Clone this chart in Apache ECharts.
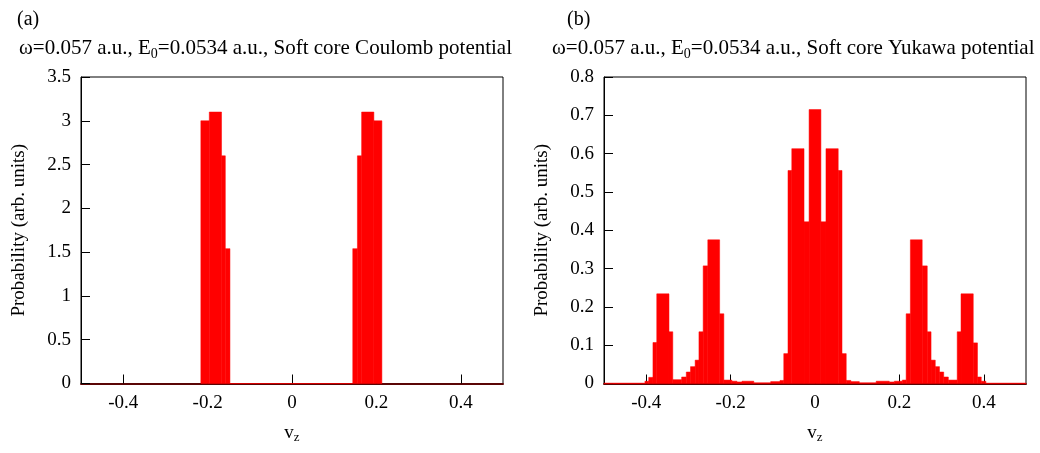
<!DOCTYPE html>
<html>
<head>
<meta charset="utf-8">
<title>Velocity distributions</title>
<script src="https://cdn.jsdelivr.net/npm/echarts@6/dist/echarts.min.js"></script>
<style>
  html, body { margin: 0; padding: 0; background: #fff; }
  #chart { width: 1040px; height: 453px; }
</style>
</head>
<body>
<div id="chart"></div>
<script>
// Histogram bins: consecutive edges in v_z (a.u.) and the probability of each bin.
const coulombEdges = [-0.216, -0.196, -0.167, -0.158, -0.147, 0.144, 0.155, 0.165, 0.194, 0.213];
const coulombProb = [3.0, 3.1, 2.6, 1.54, 0, 1.54, 2.6, 3.1, 3.0];

const yukawaEdges = [
  -0.5, -0.403, -0.394, -0.384, -0.375, -0.346, -0.337, -0.316, -0.305, -0.295,
  -0.284, -0.275, -0.265, -0.254, -0.226, -0.216, -0.197, -0.185, -0.173, -0.145,
  -0.105, -0.083, -0.074, -0.064, -0.055, -0.026, -0.014, 0.014, 0.026, 0.055,
  0.064, 0.074, 0.085, 0.105, 0.145, 0.176, 0.188, 0.207, 0.216, 0.226,
  0.254, 0.266, 0.275, 0.285, 0.295, 0.305, 0.316, 0.337, 0.346, 0.375,
  0.385, 0.394, 0.405, 0.5
];
const yukawaProb = [
  0.001, 0.006, 0.016, 0.107, 0.234, 0.135, 0.010, 0.017, 0.030, 0.044,
  0.061, 0.135, 0.307, 0.375, 0.182, 0.009, 0.006, 0.004, 0.006, 0.002,
  0.005, 0.008, 0.078, 0.556, 0.613, 0.422, 0.715, 0.422, 0.613, 0.556,
  0.078, 0.008, 0.005, 0.002, 0.006, 0.004, 0.006, 0.009, 0.182, 0.375,
  0.307, 0.135, 0.061, 0.044, 0.030, 0.017, 0.009, 0.135, 0.234, 0.106,
  0.017, 0.006, 0.001
];

// Axis ticks
const vzTicks = [-0.4, -0.2, 0, 0.2, 0.4];
const coulombYMax = 3.5, coulombYStep = 0.5;
const yukawaYMax = 0.8, yukawaYStep = 0.1;

// Panel texts
const panelTags = ['(a)', '(b)'];
const panelTitles = [
  ['ω=0.057 a.u., E', '0', '=0.0534 a.u., Soft core Coulomb potential'],
  ['ω=0.057 a.u., E', '0', '=0.0534 a.u., Soft core Yukawa potential']
];
const yName = 'Probability (arb. units)';

const FONT = '"Liberation Serif", "DejaVu Serif", serif';
const FS = 19;
const TITLE_FS = 21;

function toBins(edges, prob) {
  return prob.map((p, i) => [edges[i], edges[i + 1], p]);
}

function richFor(size, subSize, drop) {
  return {
    t: { fontFamily: FONT, fontSize: size, fontWeight: 'normal', color: '#000' },
    s: { fontFamily: FONT, fontSize: subSize, fontWeight: 'normal', color: '#000', padding: [drop, 0, 0, 0] }
  };
}

function renderBin(params, api) {
  const x0 = api.value(0), x1 = api.value(1), h = api.value(2);
  const topLeft = api.coord([x0, h]);
  const botRight = api.coord([x1, 0]);
  return {
    type: 'rect',
    shape: {
      x: topLeft[0],
      y: topLeft[1],
      width: botRight[0] - topLeft[0],
      height: botRight[1] - topLeft[1]
    },
    style: { fill: '#ff0000', stroke: '#ff0000', lineWidth: 0.5 }
  };
}

function xAxisFor(gridIndex) {
  return {
    type: 'value', gridIndex, min: -0.5, max: 0.5,
    name: '{t|v}{s|z}', nameLocation: 'middle', nameGap: 38,
    nameTextStyle: { rich: richFor(FS, 13, 10) },
    axisLine: { show: true, onZero: false, lineStyle: { color: '#5a0505', width: 2 } },
    axisTick: { show: true, inside: true, length: 9, customValues: vzTicks, lineStyle: { color: '#000' } },
    axisLabel: {
      customValues: vzTicks, color: '#000', fontFamily: FONT, fontSize: FS, margin: 10,
      formatter: v => String(v)
    },
    splitLine: { show: false }
  };
}

function yAxisFor(gridIndex, max, step) {
  return {
    type: 'value', gridIndex, min: 0, max, interval: step,
    name: yName, nameLocation: 'middle', nameGap: 52,
    nameTextStyle: { fontFamily: FONT, fontSize: FS, color: '#000' },
    axisLine: { show: true, onZero: false, lineStyle: { color: '#000', width: 1 } },
    axisTick: { show: true, inside: true, length: 9, lineStyle: { color: '#000' } },
    axisLabel: { color: '#000', fontFamily: FONT, fontSize: FS, margin: 10,
      formatter: v => String(parseFloat(v.toFixed(2))) },
    splitLine: { show: false }
  };
}

function titleText(parts) {
  return '{t|' + parts[0] + '}{s|' + parts[1] + '}{t|' + parts[2] + '}';
}

const chart = echarts.init(document.getElementById('chart'), null, { renderer: 'canvas' });

const option = {
  backgroundColor: '#fff',
  animation: false,
  title: [
    { text: panelTags[0], left: 12, top: 5, textStyle: { fontFamily: FONT, fontSize: 20, fontWeight: 'normal', color: '#000' } },
    { text: titleText(panelTitles[0]), left: 14, top: 31, textStyle: { rich: richFor(TITLE_FS, 14, 11) } },
    { text: panelTags[1], left: 562, top: 5, textStyle: { fontFamily: FONT, fontSize: 20, fontWeight: 'normal', color: '#000' } },
    { text: titleText(panelTitles[1]), left: 547, top: 31, textStyle: { rich: richFor(TITLE_FS, 14, 11) } }
  ],
  grid: [
    { left: 81, right: 537, top: 77, bottom: 69.5, show: true, borderColor: '#000', borderWidth: 1, backgroundColor: 'transparent' },
    { left: 604, right: 14, top: 77, bottom: 69.5, show: true, borderColor: '#000', borderWidth: 1, backgroundColor: 'transparent' }
  ],
  xAxis: [xAxisFor(0), xAxisFor(1)],
  yAxis: [yAxisFor(0, coulombYMax, coulombYStep), yAxisFor(1, yukawaYMax, yukawaYStep)],
  series: [
    {
      type: 'custom', xAxisIndex: 0, yAxisIndex: 0,
      renderItem: renderBin,
      encode: { x: [0, 1], y: 2 },
      data: toBins(coulombEdges, coulombProb),
      z: 1
    },
    {
      type: 'custom', xAxisIndex: 1, yAxisIndex: 1,
      renderItem: renderBin,
      encode: { x: [0, 1], y: 2 },
      data: toBins(yukawaEdges, yukawaProb),
      z: 1
    }
  ]
};

chart.setOption(option);
</script>
</body>
</html>
